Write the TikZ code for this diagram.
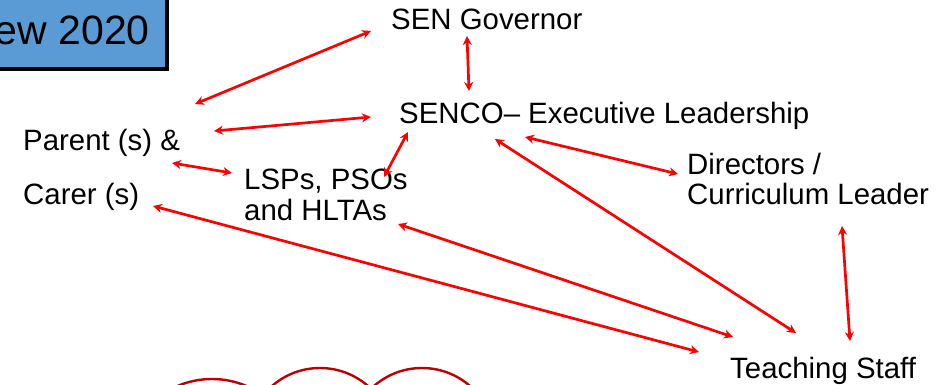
\documentclass[tikz,border=0pt]{standalone}
\usepackage{fontspec}
\setmainfont{Liberation Sans}
\usetikzlibrary{arrows.meta}
\definecolor{titleblue}{RGB}{91,155,213}
\definecolor{lobered}{RGB}{192,0,0}
\tikzset{
  lbl/.style={anchor=base west,inner sep=0pt,font=\fontsize{29.4}{32}\selectfont},
  link/.style={draw=red,line width=2.7pt,{Stealth[length=9pt,width=9pt]}-{Stealth[length=9pt,width=9pt]}},
  lobe/.style={draw=lobered,line width=2.4pt},
  titlebox/.style={draw=black,line width=4pt,fill=titleblue,minimum width=190pt,minimum height=90pt,inner sep=0pt,anchor=south east}
}
\begin{document}
\begin{tikzpicture}[x=1pt,y=-1pt]
\clip (0,0) rectangle (947,385);
\useasboundingbox (0,0) rectangle (947,385);
\fill[white] (0,0) rectangle (947,385);
\node[titlebox] (box) at (168.7,71) {};
\node[anchor=base east,inner sep=0pt,font=\fontsize{41}{44}\selectfont] (title) at (150,45) {ew 2020};
\node[lbl] (gov) at (391,30) {SEN Governor};
\node[lbl] (senco) at (399,124) {SENCO– Executive Leadership};
\node[lbl] (parent) at (23,150) {Parent (s) \&};
\node[lbl] (carer) at (23,204) {Carer (s)};
\node[lbl] (lsp) at (244,189) {LSPs, PSOs};
\node[lbl] (hlta) at (244,220) {and HLTAs};
\node[lbl] (dir) at (687,174) {Directors /};
\node[lbl] (curr) at (687,204) {Curriculum Leader};
\node[lbl] (staff) at (730,378) {Teaching Staff};
\coordinate (a1) at (371,31); \coordinate (a2) at (195,104);
\coordinate (b1) at (467,36); \coordinate (b2) at (469,91);
\coordinate (c1) at (371,117); \coordinate (c2) at (214,131);
\coordinate (d1) at (172,163); \coordinate (d2) at (232,173);
\coordinate (e1) at (384,177); \coordinate (e2) at (408,132);
\coordinate (f1) at (495,139); \coordinate (f2) at (796,333);
\coordinate (g1) at (525,137); \coordinate (g2) at (678,174);
\coordinate (h1) at (398,224); \coordinate (h2) at (733,337);
\coordinate (i1) at (153,206); \coordinate (i2) at (699,352);
\coordinate (j1) at (842,226); \coordinate (j2) at (850,341);
\draw[link] (a1) -- (a2);
\draw[link] (b1) -- (b2);
\draw[link] (c1) -- (c2);
\draw[link] (d1) -- (d2);
\draw[link] (e1) -- (e2);
\draw[link] (f1) -- (f2);
\draw[link] (g1) -- (g2);
\draw[link] (h1) -- (h2);
\draw[link] (i1) -- (i2);
\draw[link] (j1) -- (j2);
\draw[lobe] (212,467) circle (88);
\draw[lobe] (320,441) circle (73);
\draw[lobe] (422,441) circle (73);
\end{tikzpicture}
\end{document}
